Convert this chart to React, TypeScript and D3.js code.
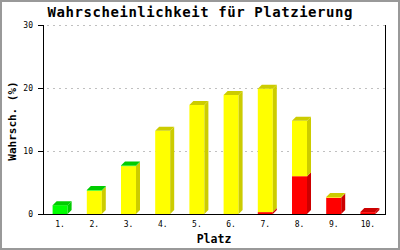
import React from "react";
import * as d3 from "d3";

const categories = ["1.", "2.", "3.", "4.", "5.", "6.", "7.", "8.", "9.", "10."];
const redValues = [0, 0, 0, 0, 0, 0, 0.3, 6.0, 2.6, 0.3];
const yellowValues = [0, 3.7, 7.6, 13.2, 17.3, 18.9, 19.6, 8.8, 0.1, 0];
const greenValues = [1.4, 0.1, 0.1, 0, 0, 0, 0, 0, 0, 0];
const yTicks = [0, 10, 20, 30];

const title = "Wahrscheinlichkeit für Platzierung";
const yLabel = "Wahrsch. (%)";
const xLabel = "Platz";

const series = [
  { values: redValues, front: "#ff0000", dark: "#cc0000" },
  { values: yellowValues, front: "#ffff00", dark: "#cccc00" },
  { values: greenValues, front: "#00ff00", dark: "#00cc00" },
];

export default function App() {
  const W = 400, H = 250;
  const left = 43, right = 385, top = 25, bottom = 214;
  const x = d3.scaleBand<string>().domain(categories).range([left, right]);
  const y = d3.scaleLinear().domain([0, 30]).range([bottom, top]);
  const bw = 15;
  const d = 4;
  const mono = "'DejaVu Sans Mono', 'Liberation Mono', monospace";

  const bars: React.ReactNode[] = [];
  categories.forEach((c, i) => {
    const cx = (x(c) as number) + x.bandwidth() / 2;
    const x0 = cx - bw / 2;
    const x1 = x0 + bw;
    let acc = 0;
    let topIdx = -1;
    series.forEach((s, si) => { if (s.values[i] > 0) topIdx = si; });
    series.forEach((s, si) => {
      const v = s.values[i];
      if (v <= 0) return;
      const yb = y(acc);
      const yt = y(acc + v);
      acc += v;
      bars.push(
        <rect key={`f${i}-${si}`} x={x0} y={yt} width={bw} height={yb - yt} fill={s.front} />
      );
      bars.push(
        <polygon
          key={`s${i}-${si}`}
          points={`${x1},${yb} ${x1 + d},${yb - d} ${x1 + d},${yt - d} ${x1},${yt}`}
          fill={s.dark}
        />
      );
      if (si === topIdx) {
        bars.push(
          <polygon
            key={`t${i}-${si}`}
            points={`${x0},${yt} ${x0 + d},${yt - d} ${x1 + d},${yt - d} ${x1},${yt}`}
            fill={s.dark}
          />
        );
      }
    });
  });

  return (
    <svg width={W} height={H} style={{ position: "absolute", left: 0, top: 0 }}>
      <rect x={1} y={1} width={W - 2} height={H - 2} fill="#ffffff" stroke="#999999" strokeWidth={2} />
      <text x={200} y={17} textAnchor="middle" fontFamily={mono} fontWeight="bold" fontSize={14}
        textLength={305} lengthAdjust="spacing" fill="#000">{title}</text>
      {yTicks.filter(t => t > 0).map(t => (
        <line key={`g${t}`} x1={47} x2={right} y1={y(t) + 0.5} y2={y(t) + 0.5}
          stroke="#c0c0c0" strokeDasharray="2,4" />
      ))}
      {bars}
      <line x1={left + 0.5} x2={left + 0.5} y1={top} y2={bottom + 1} stroke="#000" />
      <line x1={right + 0.5} x2={right + 0.5} y1={top} y2={bottom + 1} stroke="#000" />
      <line x1={left} x2={right + 1} y1={bottom + 0.5} y2={bottom + 0.5} stroke="#000" />
      {yTicks.map(t => (
        <g key={`t${t}`}>
          <line x1={38} x2={left} y1={y(t) + 0.5} y2={y(t) + 0.5} stroke="#000" />
          <text x={33} y={y(t) + 0.5} textAnchor="end" dominantBaseline="middle"
            fontFamily={mono} fontSize={8} fill="#000">{t}</text>
        </g>
      ))}
      {categories.map(c => (
        <text key={`x${c}`} x={(x(c) as number) + x.bandwidth() / 2} y={227}
          textAnchor="middle" fontFamily={mono} fontSize={8} fill="#000">{c}</text>
      ))}
      <text x={214} y={243} textAnchor="middle" fontFamily={mono} fontWeight="bold" fontSize={11.5}
        fill="#000">{xLabel}</text>
      <text transform={`translate(16,121) rotate(-90)`} textAnchor="middle" fontFamily={mono}
        fontWeight="bold" fontSize={11} fill="#000">{yLabel}</text>
    </svg>
  );
}
